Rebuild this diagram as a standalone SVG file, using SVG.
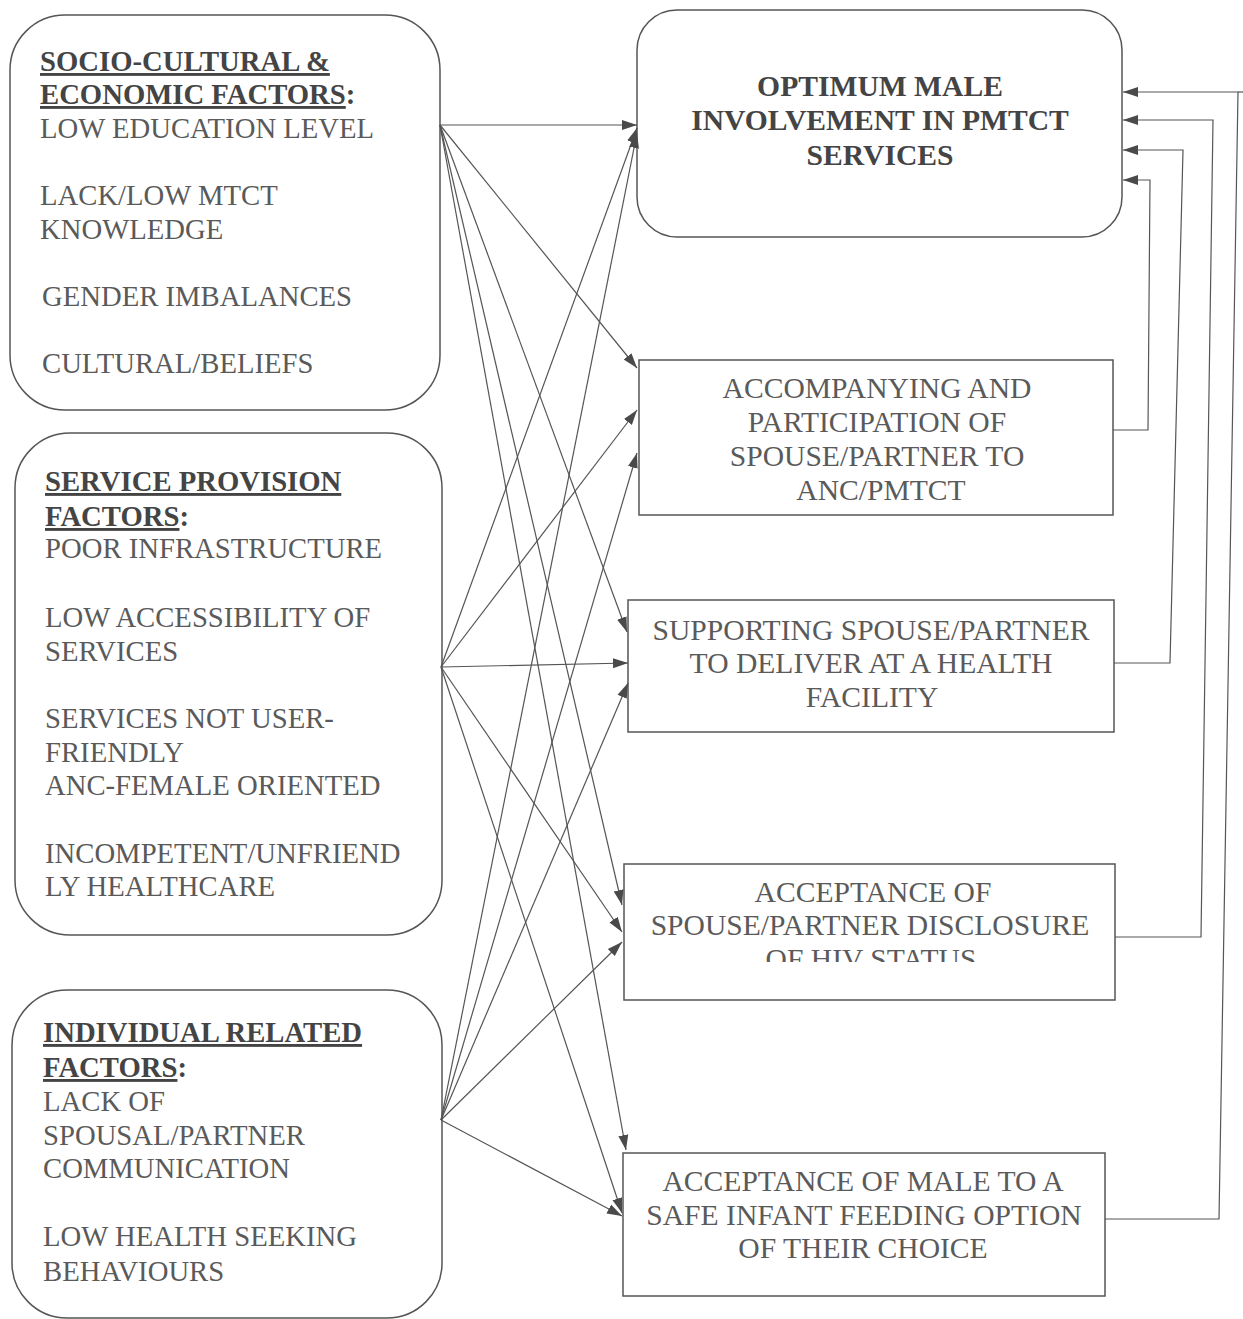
<svg xmlns="http://www.w3.org/2000/svg" width="1243" height="1319" viewBox="0 0 1243 1319" font-family="'Liberation Serif', Tinos, 'Noto Serif', 'DejaVu Serif', serif">
<style>
.box{fill:none;stroke:#555;stroke-width:1.5}
.t{font-family:'Liberation Serif',Tinos,'Noto Serif','DejaVu Serif',serif;font-size:28.7px;fill:#5a5a5a}
.r{font-size:29.6px}
.b{font-weight:bold;fill:#444}
.c{text-anchor:middle}
.u{text-decoration:underline}
.ln{fill:none;stroke:#555;stroke-width:1.2}
</style>
<defs>
<marker id="ah" markerUnits="userSpaceOnUse" markerWidth="16" markerHeight="12" refX="15" refY="6" orient="auto">
<path d="M0,1 L15,6 L0,11 Z" fill="#4a4a4a"/>
</marker>
<clipPath id="clipD"><rect x="624" y="864" width="491" height="98"/></clipPath>
</defs>
<rect width="1243" height="1319" fill="#fff"/>

<g id="node-socio">
<rect class="box" x="10" y="15" width="430" height="395" rx="55"/>
<text class="t b" x="40" y="71"><tspan class="u">SOCIO-CULTURAL &amp;</tspan></text>
<text class="t b" x="40" y="104"><tspan class="u">ECONOMIC FACTORS</tspan>:</text>
<text class="t" x="40" y="138">LOW EDUCATION LEVEL</text>
<text class="t" x="40" y="205">LACK/LOW MTCT</text>
<text class="t" x="40" y="239">KNOWLEDGE</text>
<text class="t" x="42" y="306">GENDER IMBALANCES</text>
<text class="t" x="42" y="373">CULTURAL/BELIEFS</text>
</g>

<g id="node-service">
<rect class="box" x="15" y="433" width="427" height="502" rx="55"/>
<text class="t b" x="45" y="491"><tspan class="u">SERVICE PROVISION</tspan></text>
<text class="t b" x="45" y="526"><tspan class="u">FACTORS</tspan>:</text>
<text class="t" x="45" y="558">POOR INFRASTRUCTURE</text>
<text class="t" x="45" y="627">LOW ACCESSIBILITY OF</text>
<text class="t" x="45" y="661">SERVICES</text>
<text class="t" x="45" y="728">SERVICES NOT USER-</text>
<text class="t" x="45" y="762">FRIENDLY</text>
<text class="t" x="45" y="795">ANC-FEMALE ORIENTED</text>
<text class="t" x="45" y="863">INCOMPETENT/UNFRIEND</text>
<text class="t" x="45" y="896">LY HEALTHCARE</text>
</g>

<g id="node-individual">
<rect class="box" x="12" y="990" width="430" height="328" rx="55"/>
<text class="t b" x="43" y="1042"><tspan class="u">INDIVIDUAL RELATED</tspan></text>
<text class="t b" x="43" y="1077"><tspan class="u">FACTORS</tspan>:</text>
<text class="t" x="43" y="1111">LACK OF</text>
<text class="t" x="43" y="1145">SPOUSAL/PARTNER</text>
<text class="t" x="43" y="1178">COMMUNICATION</text>
<text class="t" x="43" y="1246">LOW HEALTH SEEKING</text>
<text class="t" x="43" y="1281">BEHAVIOURS</text>
</g>

<g id="node-optimum">
<rect class="box" x="637" y="10" width="485" height="227" rx="40"/>
<text class="t r b c" x="880" y="96">OPTIMUM MALE</text>
<text class="t r b c" x="880" y="130">INVOLVEMENT IN PMTCT</text>
<text class="t r b c" x="880" y="165">SERVICES</text>
</g>

<g id="node-accompanying">
<rect class="box" x="639" y="360" width="474" height="155"/>
<text class="t r c" x="877" y="398">ACCOMPANYING AND</text>
<text class="t r c" x="877" y="432">PARTICIPATION OF</text>
<text class="t r c" x="877" y="466">SPOUSE/PARTNER TO</text>
<text class="t r c" x="881" y="500">ANC/PMTCT</text>
</g>

<g id="node-supporting">
<rect class="box" x="628" y="600" width="486" height="132"/>
<text class="t r c" x="871" y="640">SUPPORTING SPOUSE/PARTNER</text>
<text class="t r c" x="871" y="673">TO DELIVER AT A HEALTH</text>
<text class="t r c" x="872" y="707">FACILITY</text>
</g>

<g id="node-disclosure">
<rect class="box" x="624" y="864" width="491" height="136"/>
<text class="t r c" x="873" y="902">ACCEPTANCE OF</text>
<text class="t r c" x="870" y="935">SPOUSE/PARTNER DISCLOSURE</text>
<text class="t r c" x="871" y="969" clip-path="url(#clipD)">OF HIV STATUS</text>
</g>

<g id="node-feeding">
<rect class="box" x="623" y="1153" width="482" height="143"/>
<text class="t r c" x="863" y="1191">ACCEPTANCE OF MALE TO A</text>
<text class="t r c" x="864" y="1225">SAFE INFANT FEEDING OPTION</text>
<text class="t r c" x="863" y="1258">OF THEIR CHOICE</text>
</g>

<g id="connectors">
<line class="ln" x1="440" y1="125" x2="637" y2="125" marker-end="url(#ah)"/>
<line class="ln" x1="441" y1="667" x2="637" y2="128" marker-end="url(#ah)"/>
<line class="ln" x1="441" y1="1120" x2="637" y2="133" marker-end="url(#ah)"/>
<line class="ln" x1="440" y1="125" x2="637" y2="368" marker-end="url(#ah)"/>
<line class="ln" x1="441" y1="667" x2="637" y2="410" marker-end="url(#ah)"/>
<line class="ln" x1="441" y1="1120" x2="637" y2="453" marker-end="url(#ah)"/>
<line class="ln" x1="440" y1="125" x2="627" y2="632" marker-end="url(#ah)"/>
<line class="ln" x1="441" y1="667" x2="628" y2="663" marker-end="url(#ah)"/>
<line class="ln" x1="441" y1="1120" x2="628" y2="683" marker-end="url(#ah)"/>
<line class="ln" x1="440" y1="125" x2="622" y2="905" marker-end="url(#ah)"/>
<line class="ln" x1="441" y1="667" x2="622" y2="932" marker-end="url(#ah)"/>
<line class="ln" x1="441" y1="1120" x2="622" y2="942" marker-end="url(#ah)"/>
<line class="ln" x1="440" y1="125" x2="626" y2="1150" marker-end="url(#ah)"/>
<line class="ln" x1="441" y1="667" x2="622" y2="1213" marker-end="url(#ah)"/>
<line class="ln" x1="441" y1="1120" x2="622" y2="1216" marker-end="url(#ah)"/>
<polyline class="ln" points="1113,430 1148,430 1150,180 1123,180" marker-end="url(#ah)"/>
<polyline class="ln" points="1114,663 1170,663 1183,150 1123,150" marker-end="url(#ah)"/>
<polyline class="ln" points="1115,937 1201,937 1213,120 1123,120" marker-end="url(#ah)"/>
<polyline class="ln" points="1105,1219 1219,1219 1238,92 1123,92" marker-end="url(#ah)"/>
<line class="ln" x1="1238" y1="92" x2="1243" y2="92"/>
</g>
</svg>
